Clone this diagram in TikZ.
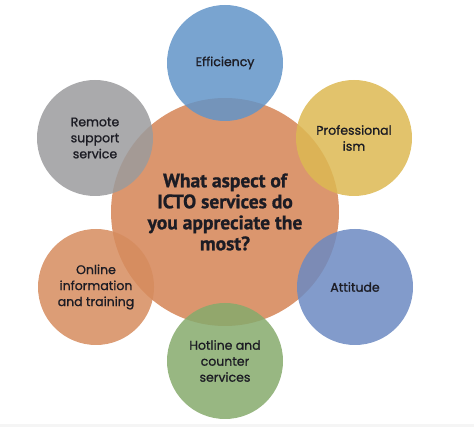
\documentclass[tikz,border=0pt]{standalone}
\usepackage{fontspec}
\setmainfont{Poppins}[FakeBold=1]
\newfontfamily\headfont{PT Sans}[FakeBold=1]
\usetikzlibrary{positioning}

\definecolor{coreorange}{RGB}{219,150,110}
\definecolor{effblue}{RGB}{98,148,200}
\definecolor{profyellow}{RGB}{221,185,82}
\definecolor{attblue}{RGB}{108,138,194}
\definecolor{hotgreen}{RGB}{134,170,108}
\definecolor{onlorange}{RGB}{214,140,94}
\definecolor{remgray}{RGB}{155,155,157}
\definecolor{txtdark}{RGB}{28,28,36}

\begin{document}
\begin{tikzpicture}[
   x=1pt, y=-1pt,
   core/.style={circle, minimum size=228pt, inner sep=0pt, align=center, fill=coreorange,
      text=txtdark, font=\headfont\bfseries\fontsize{19.5}{21}\selectfont},
   petal/.style={circle, minimum size=116pt, inner sep=0pt, align=center, fill opacity=0.85,
      text opacity=1, text=txtdark, font=\fontsize{12.5}{16}\selectfont}]
   \useasboundingbox (0,0) rectangle (474,427);
   \fill[black!4] (0,424) rectangle (474,427);
   \node[core] (q) at (225,212) {What aspect of\\ICTO services do\\you appreciate the\\most?};
   \node[petal, fill=effblue] (eff) at ([shift={(0,-149)}]q) {Efficiency};
   \node[petal, fill=profyellow] (prof) at ([shift={(129,-74)}]q) {Professional\\ism};
   \node[petal, fill=attblue] (att) at ([shift={(130,75)}]q) {Attitude};
   \node[petal, fill=hotgreen] (hot) at ([shift={(0,149)}]q) {Hotline and\\counter\\services};
   \node[petal, fill=onlorange] (onl) at ([shift={(-129,75)}]q) {Online\\information\\and training};
   \node[petal, fill=remgray] (rem) at ([shift={(-130,-74)}]q) {Remote\\support\\service};
\end{tikzpicture}
\end{document}
